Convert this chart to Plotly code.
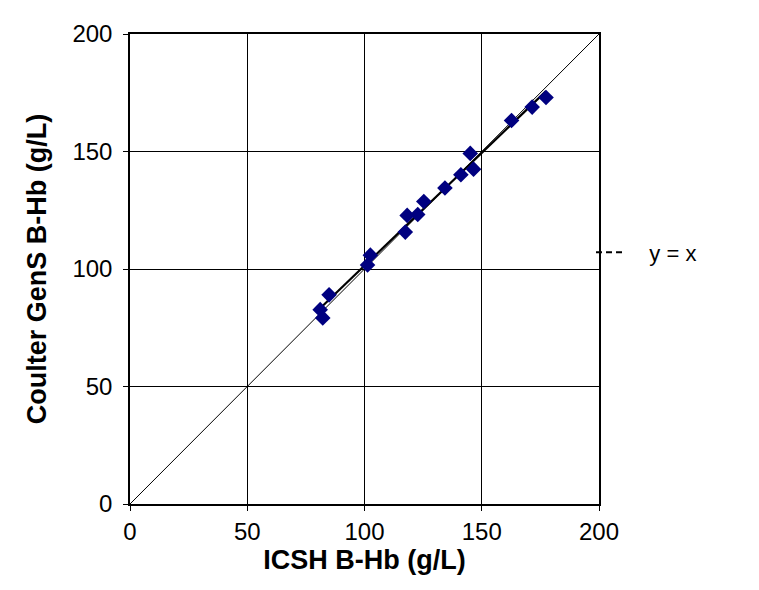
import numpy as np
import plotly.graph_objects as go

icsh = [81.1, 82.2, 84.9, 101.3, 102.5, 117.4, 118.2, 122.7, 125.3, 134.3, 141.1, 145.1, 146.5, 162.7, 171.5, 177.4]
coulter = [82.7, 79.2, 89.0, 101.7, 105.9, 115.7, 122.8, 123.2, 128.7, 134.5, 140.1, 149.2, 142.5, 163.2, 168.9, 173.0]
identity = [0, 200]
tick_vals = [0, 50, 100, 150, 200]

slope, intercept = np.polyfit(icsh, coulter, 1)
fit_x = np.array([min(icsh), max(icsh)])
fit_y = slope * fit_x + intercept

FONT = "Arial, Liberation Sans, sans-serif"

fig = go.Figure()
fig.add_trace(go.Scatter(x=identity, y=identity, mode="lines",
                         line=dict(color="black", width=1), showlegend=False, hoverinfo="skip"))
fig.add_trace(go.Scatter(x=fit_x, y=fit_y, mode="lines",
                         line=dict(color="black", width=2.2), showlegend=False))
fig.add_trace(go.Scatter(x=icsh, y=coulter, mode="markers",
                         marker=dict(symbol="diamond", size=12, color="#000080"),
                         showlegend=False))
fig.add_trace(go.Scatter(x=[None], y=[None], mode="lines", name="\u00a0\u00a0\u00a0y = x",
                         line=dict(color="black", width=2, dash="6px,4px")))

axis_common = dict(range=[0, 200], tickvals=tick_vals, showgrid=True, gridcolor="black",
                   gridwidth=1, showline=True, linecolor="black", linewidth=1.5, mirror=True,
                   ticks="outside", ticklen=5, tickcolor="black", zeroline=False,
                   tickfont=dict(family=FONT, size=24, color="black"))

fig.update_layout(
    width=759, height=590,
    paper_bgcolor="white", plot_bgcolor="white",
    margin=dict(l=122, r=168, t=22, b=94),
    xaxis=dict(**axis_common,
               title=dict(text="<b>ICSH B-Hb (g/L)</b>", standoff=0,
                          font=dict(family=FONT, size=27, color="black"))),
    yaxis=dict(**axis_common, ticklabelstandoff=6,
               title=dict(text="<b>Coulter GenS B-Hb (g/L)</b>", standoff=18,
                          font=dict(family=FONT, size=27, color="black"))),
    legend=dict(x=0.983, y=0.535, xanchor="left", yanchor="middle",
                font=dict(family=FONT, size=22, color="black"),
                bgcolor="rgba(0,0,0,0)", itemwidth=30),
    showlegend=True,
)

fig.write_html("out.html")
